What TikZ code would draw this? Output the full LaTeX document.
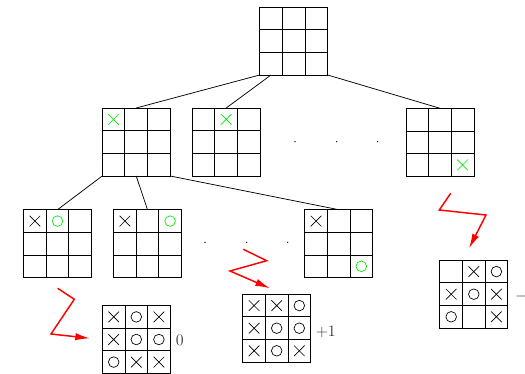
\documentclass[tikz,border=0pt]{standalone}
\usetikzlibrary{calc,arrows.meta}
\definecolor{mkgreen}{RGB}{0,230,0}
\definecolor{zred}{RGB}{255,0,0}
\tikzset{
  board/.style={draw=black, line width=0.65pt, minimum size=51pt, inner sep=0pt, outer sep=0pt,
    path picture={
      \foreach \t in {1,2} {
        \draw[line width=0.65pt] ($(path picture bounding box.north west)!\t/3!(path picture bounding box.north east)$) --
              ($(path picture bounding box.south west)!\t/3!(path picture bounding box.south east)$);
        \draw[line width=0.65pt] ($(path picture bounding box.north west)!\t/3!(path picture bounding box.south west)$) --
              ($(path picture bounding box.north east)!\t/3!(path picture bounding box.south east)$);
      }
    }},
  xm/.pic={\draw[line width=0.5pt] (-5.3,-5.3)--(5.3,5.3) (-5.3,5.3)--(5.3,-5.3);},
  om/.pic={\draw[line width=0.5pt] (0,0) circle (5.3);},
  edge/.style={draw=black, line width=0.55pt},
  zig/.style={draw=zred, line width=1.1pt, -{Latex[length=11pt,width=5.5pt]}},
  dotn/.style={circle, fill=black, inner sep=0pt, minimum size=1.1pt},
  val/.style={inner sep=0pt, font=\fontsize{11.6}{14}\selectfont, text=black!80}
}
\newcommand\mk[5]{\path (#1.center) ++({(#3-2)*22.6},{(#2-2)*22.6}) pic[color=#5]{#4};}
\begin{document}
\begin{tikzpicture}[x=0.75pt,y=-0.75pt]
\useasboundingbox (0,0) rectangle (525,374);
% boards
\node[board] (root) at (293.7,41) {};
\node[board] (A) at (136.2,142) {};
\node[board] (B) at (226.2,142) {};
\node[board] (C) at (440,142.3) {};
\node[board] (D) at (57.5,243.7) {};
\node[board] (E) at (147.5,243.7) {};
\node[board] (F) at (338.7,243.7) {};
\node[board] (L1) at (136.3,339.5) {};
\node[board] (L2) at (276.7,328.2) {};
\node[board] (L3) at (473.8,294.2) {};
% tree edges
\draw[edge] (root.south west) -- (A.north);
\draw[edge] ($(root.south west)+(11.3,0)$) -- (B.north);
\draw[edge] (root.south east) -- (C.north);
\draw[edge] (A.south west) -- (D.north);
\draw[edge] (A.south) -- (E.north);
\draw[edge] (A.south east) -- (F.north);
% dots
\node[dotn] (d1) at (295,141.7) {};
\node[dotn] (d2) at (336.7,141.7) {};
\node[dotn] (d3) at (377.7,141.7) {};
\node[dotn] (d4) at (205,242.3) {};
\node[dotn] (d5) at (246.7,242.3) {};
\node[dotn] (d6) at (287.7,242.3) {};
% marks level 1
\mk{A}{1}{1}{xm}{mkgreen}
\mk{B}{1}{2}{xm}{mkgreen}
\mk{C}{3}{3}{xm}{mkgreen}
% level 2
\mk{D}{1}{1}{xm}{black}
\mk{D}{1}{2}{om}{mkgreen}
\mk{E}{1}{1}{xm}{black}
\mk{E}{1}{3}{om}{mkgreen}
\mk{F}{1}{1}{xm}{black}
\mk{F}{3}{3}{om}{mkgreen}
% leaf L1
\mk{L1}{1}{1}{xm}{black}\mk{L1}{1}{2}{om}{black}\mk{L1}{1}{3}{xm}{black}
\mk{L1}{2}{1}{xm}{black}\mk{L1}{2}{2}{om}{black}\mk{L1}{2}{3}{om}{black}
\mk{L1}{3}{1}{om}{black}\mk{L1}{3}{2}{xm}{black}\mk{L1}{3}{3}{xm}{black}
% leaf L2
\mk{L2}{1}{1}{xm}{black}\mk{L2}{1}{2}{xm}{black}\mk{L2}{1}{3}{om}{black}
\mk{L2}{2}{1}{xm}{black}\mk{L2}{2}{2}{om}{black}\mk{L2}{2}{3}{om}{black}
\mk{L2}{3}{1}{xm}{black}\mk{L2}{3}{2}{om}{black}\mk{L2}{3}{3}{xm}{black}
% leaf L3
\mk{L3}{1}{2}{xm}{black}\mk{L3}{1}{3}{om}{black}
\mk{L3}{2}{1}{xm}{black}\mk{L3}{2}{2}{om}{black}\mk{L3}{2}{3}{xm}{black}
\mk{L3}{3}{1}{om}{black}\mk{L3}{3}{3}{xm}{black}
% values
\node[val, anchor=base west] (v1) at (175.5,345) {$0$};
\node[val, anchor=base west] (v2) at (315.5,336.7) {$+1$};
\node[val, anchor=base west] (v3) at (515,300.6) {$-1$};
% red zigzag arrows
\coordinate (z1a) at (57.7,288.3);
\coordinate (z1b) at (74.3,299.3);
\coordinate (z1c) at (51,334);
\coordinate (z1d) at (90,338.3);
\draw[zig] (z1a) -- (z1b) -- (z1c) -- (z1d);
\coordinate (z2a) at (243.3,249.3);
\coordinate (z2b) at (266.7,260.7);
\coordinate (z2c) at (230,271);
\coordinate (z2d) at (270,288.3);
\draw[zig] (z2a) -- (z2b) -- (z2c) -- (z2d);
\coordinate (z3a) at (450.7,193.3);
\coordinate (z3b) at (439.3,210);
\coordinate (z3c) at (486,215);
\coordinate (z3d) at (469,248.3);
\draw[zig] (z3a) -- (z3b) -- (z3c) -- (z3d);
\end{tikzpicture}
\end{document}
